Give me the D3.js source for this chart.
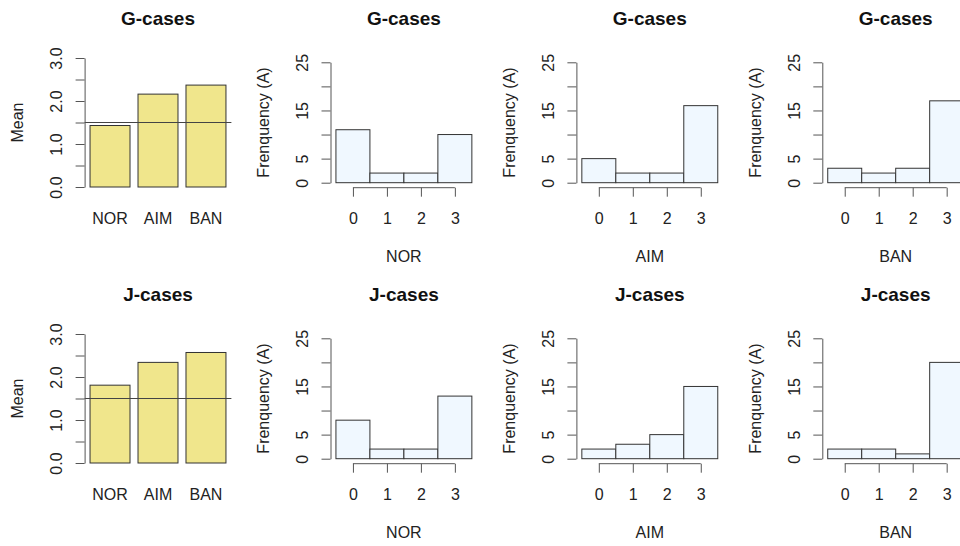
<!DOCTYPE html>
<html>
<head>
<meta charset="utf-8">
<script src="https://cdn.jsdelivr.net/npm/d3@7"></script>
<style>
  html, body { margin: 0; padding: 0; background: #fff; }
  svg { display: block; font-family: "Liberation Sans", Arial, Helvetica, sans-serif; }
</style>
</head>
<body>
<svg id="chart" width="960" height="546"></svg>
<script>
// ---------------- data ----------------
const groups = ["NOR", "AIM", "BAN"];
const rowTitles = ["G-cases", "J-cases"];
const meansG = [1.43, 2.16, 2.37];
const meansJ = [1.81, 2.34, 2.57];
const referenceLine = 1.5;
const meanTicks = [0, 0.5, 1, 1.5, 2, 2.5, 3];
const meanTickLabels = ["0.0", "1.0", "2.0", "3.0"];
const scores = [0, 1, 2, 3];
const freqG_NOR = [11, 2, 2, 10];
const freqG_AIM = [5, 2, 2, 16];
const freqG_BAN = [3, 2, 3, 17];
const freqJ_NOR = [8, 2, 2, 13];
const freqJ_AIM = [2, 3, 5, 15];
const freqJ_BAN = [2, 2, 1, 20];
const freqTicks = [0, 5, 10, 15, 20, 25];
const freqTickLabels = ["0", "5", "15", "25"];
const freqLabel = "Frenquency (A)";
const meanLabel = "Mean";

const rows = [
  { title: rowTitles[0], means: meansG, hists: [freqG_NOR, freqG_AIM, freqG_BAN] },
  { title: rowTitles[1], means: meansJ, hists: [freqJ_NOR, freqJ_AIM, freqJ_BAN] }
];

// ---------------- layout ----------------
const svg = d3.select("#chart");
const colStep = 245.9;
const plotLeft0 = 84.6;
const plotWidth = 146.8;
const rowStep = 276;
const textColor = "#222";
const axisColor = "#555";
const barStroke = "#333";
const fs = 16;

function styleAxis(g) {
  g.selectAll("line").attr("stroke", axisColor);
  g.selectAll("path").attr("stroke", axisColor);
  g.selectAll("text").attr("fill", textColor).style("font-size", fs + "px").style("font-family", null);
}

rows.forEach((row, r) => {
  const oy = r * rowStep;

  // ---------- bar plot of means ----------
  {
    const left = plotLeft0;
    const x = d3.scaleLinear().domain([0.064, 3.736]).range([left, left + plotWidth]);
    const y = d3.scaleLinear().domain([0, 3]).range([187 + oy, 58 + oy]);
    const g = svg.append("g");

    g.selectAll("rect.bar").data(row.means).enter().append("rect")
      .attr("x", (d, i) => x(0.2 + i * 1.2))
      .attr("width", (d, i) => x(1.2 + i * 1.2) - x(0.2 + i * 1.2))
      .attr("y", d => y(d))
      .attr("height", d => y(0) - y(d))
      .attr("fill", "#F0E68C")
      .attr("stroke", barStroke)
      .attr("stroke-width", 1);

    // reference line
    g.append("line")
      .attr("x1", x.range()[0]).attr("x2", x.range()[1])
      .attr("y1", y(referenceLine)).attr("y2", y(referenceLine))
      .attr("stroke", "#444").attr("stroke-width", 1);

    // y axis
    const ya = g.append("g").attr("transform", `translate(${left},0)`)
      .call(d3.axisLeft(y).tickValues(meanTicks).tickSize(9).tickSizeOuter(0)
        .tickFormat(d => { const s = d3.format(".1f")(d); return meanTickLabels.includes(s) ? s : ""; }));
    styleAxis(ya);
    ya.selectAll("text").attr("x", null).attr("dy", null)
      .attr("text-anchor", "middle")
      .attr("transform", "translate(-23,0) rotate(-90)");

    // category labels
    g.selectAll("text.cat").data(groups).enter().append("text")
      .attr("x", (d, i) => x(0.7 + i * 1.2))
      .attr("y", 224 + oy)
      .attr("text-anchor", "middle")
      .attr("fill", textColor)
      .style("font-size", fs + "px")
      .text(d => d);

    // y label
    g.append("text")
      .attr("transform", `translate(${left - 61.5},${y(1.5)}) rotate(-90)`)
      .attr("text-anchor", "middle")
      .attr("fill", textColor)
      .style("font-size", fs + "px")
      .text(meanLabel);

    // title
    g.append("text")
      .attr("x", left + plotWidth / 2).attr("y", 25 + oy)
      .attr("text-anchor", "middle")
      .attr("fill", "#111")
      .style("font-size", "19px").style("font-weight", "bold")
      .text(row.title);
  }

  // ---------- histograms ----------
  row.hists.forEach((freq, k) => {
    const left = plotLeft0 + colStep * (k + 1);
    const x = d3.scaleLinear().domain([-0.66, 3.66]).range([left, left + plotWidth]);
    const y = d3.scaleLinear().domain([0, 25]).range([182.7 + oy, 62.3 + oy]);
    const g = svg.append("g");

    g.selectAll("rect.hbar").data(freq).enter().append("rect")
      .attr("x", (d, i) => x(scores[i] - 0.5))
      .attr("width", (d, i) => x(scores[i] + 0.5) - x(scores[i] - 0.5))
      .attr("y", d => y(d))
      .attr("height", d => y(0) - y(d))
      .attr("fill", "#F0F8FF")
      .attr("stroke", barStroke)
      .attr("stroke-width", 1);

    // y axis
    const ya = g.append("g").attr("transform", `translate(${left},0)`)
      .call(d3.axisLeft(y).tickValues(freqTicks).tickSize(9).tickSizeOuter(0)
        .tickFormat(d => freqTickLabels.includes(String(d)) ? String(d) : ""));
    styleAxis(ya);
    ya.selectAll("text").attr("x", null).attr("dy", null)
      .attr("text-anchor", "middle")
      .attr("transform", "translate(-22.5,0) rotate(-90)");

    // x axis (line spans only first to last tick, as in R)
    const axisY = 187.7 + oy;
    const xa = g.append("g").attr("transform", `translate(0,${axisY})`)
      .call(d3.axisBottom(x).tickValues(scores).tickSize(9).tickSizeOuter(0).tickFormat(d3.format("d")));
    xa.select("path.domain").remove();
    xa.append("line")
      .attr("x1", x(scores[0])).attr("x2", x(scores[scores.length - 1]))
      .attr("y1", 0).attr("y2", 0);
    styleAxis(xa);
    xa.selectAll("text").attr("dy", null).attr("y", 224 + oy - axisY);

    // x label
    g.append("text")
      .attr("x", left + plotWidth / 2).attr("y", 262.3 + oy)
      .attr("text-anchor", "middle")
      .attr("fill", textColor)
      .style("font-size", fs + "px")
      .text(groups[k]);

    // y label
    g.append("text")
      .attr("transform", `translate(${left - 61.5},${y(12.5)}) rotate(-90)`)
      .attr("text-anchor", "middle")
      .attr("fill", textColor)
      .style("font-size", fs + "px")
      .text(freqLabel);

    // title
    g.append("text")
      .attr("x", left + plotWidth / 2).attr("y", 25 + oy)
      .attr("text-anchor", "middle")
      .attr("fill", "#111")
      .style("font-size", "19px").style("font-weight", "bold")
      .text(row.title);
  });
});
</script>
</body>
</html>
